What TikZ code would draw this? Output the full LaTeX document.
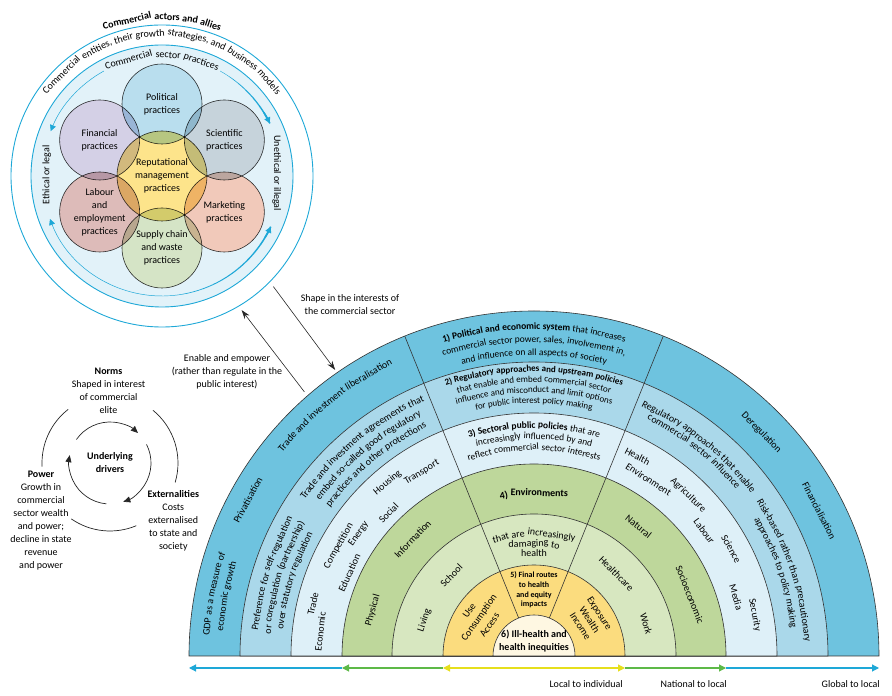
\documentclass[tikz,border=0pt]{standalone}
\usepackage{fontspec}
\setmainfont{Carlito}
\usetikzlibrary{arrows.meta,calc,decorations.text}

\definecolor{ringA}{HTML}{6EC3DF}
\definecolor{ringB}{HTML}{AAD8EA}
\definecolor{ringC}{HTML}{DEF0F8}
\definecolor{ringD}{HTML}{BED79B}
\definecolor{ringE}{HTML}{D7E7C0}
\definecolor{ringF}{HTML}{FBDC7E}
\definecolor{ringG}{HTML}{FEF7E2}
\definecolor{edge}{HTML}{333333}
\definecolor{sky}{HTML}{1EA8D7}
\definecolor{pale}{HTML}{E2F2F9}
\definecolor{axisgreen}{HTML}{5DB947}
\definecolor{axisyellow}{HTML}{E6DF1C}
\definecolor{polC}{HTML}{B9DEEE}
\definecolor{sciC}{HTML}{C6D3DB}
\definecolor{marC}{HTML}{F1C9BA}
\definecolor{supC}{HTML}{D5E4C6}
\definecolor{labC}{HTML}{DDBBB9}
\definecolor{finC}{HTML}{D4D0E6}
\definecolor{repC}{HTML}{FDE48B}

\newcommand\rfont{\fontsize{10}{12}\selectfont}
\newcommand\tfont{\fontsize{9.5}{11}\selectfont}
\newcommand\sfont{\fontsize{9}{10}\selectfont}
\newcommand\lfont{\fontsize{10}{13}\selectfont}

\makeatletter
\newtoks\arc@toks
% put every word in a box of its own
\def\arc@wrap#1 #2\arc@stop{%
  \arc@toks\expandafter{\the\arc@toks{#1} }%
  \ifx\relax#2\relax\else\arc@wrap#2\arc@stop\fi}
% curved text: [font]{centre}{radius}{angle}{words}
\newcommand\arctext[5][\rfont]{%
  \arc@toks{|#1|}\arc@wrap#5 \arc@stop
  \arc@path{#2}{#3}{#4}}
% same with a bold start: [font]{centre}{radius}{angle}{bold words}{words}
\newcommand\arctextb[6][\rfont]{%
  \arc@toks{|#1\bfseries|}\arc@wrap#5 \arc@stop
  \arc@toks\expandafter{\the\arc@toks|#1\mdseries|}\arc@wrap#6 \arc@stop
  \arc@path{#2}{#3}{#4}}
\newcommand\arc@path[3]{%
  \path[decorate,decoration={text along path,text align=center,text/.expanded={\the\arc@toks}}]
    ($(#1)+(#3+70:#2)$) arc[start angle=#3+70,end angle=#3-70,radius=#2];}
\makeatother

\tikzset{
  lbl/.style={font=\lfont,align=center,inner sep=0pt},
  petal/.style={circle,draw=edge,line width=0.6pt,minimum size=80pt,inner sep=0pt,
    align=center,font=\lfont,blend mode=multiply},
  conn/.style={draw=black!85,line width=0.6pt,-{Stealth[length=9pt,width=6pt]}},
  cyc/.style={draw=black!85,line width=0.7pt},
  cycarrow/.style={cyc,-{Triangle[length=7pt,width=6pt]}},
  axisline/.style={line width=1.1pt,-{Triangle[length=7pt,width=7pt]}}
}

\begin{document}
\begin{tikzpicture}[x=1pt,y=1pt]
\useasboundingbox (0,0) rectangle (892,696);

\coordinate (sc) at (534,40);
\coordinate (tc) at (162,520);
\coordinate (dc) at (110,233);

% rings of the semicircle
\foreach \r/\c in {345/ringA,294/ringB,243/ringC,192/ringD,142/ringE,91/ringF,41/ringG}
  \filldraw[fill=\c,draw=edge,line width=0.6pt] ($(sc)+(\r,0)$) arc[start angle=0,end angle=180,radius=\r] -- cycle;

\foreach \a in {68,112}
  \draw[edge,line width=0.6pt] ($(sc)+(\a:41)$) -- ($(sc)+(\a:345)$);

% ring 1
\arctext{sc}{323.5}{128.4}{Trade and investment liberalisation}
\arctext{sc}{322.5}{151.4}{Privatisation}
\arctext{sc}{325}{169}{GDP as a measure of}
\arctext{sc}{311.5}{169}{economic growth}
\arctext{sc}{316}{44.5}{Deregulation}
\arctext{sc}{316.5}{27}{Financialisation}
\arctextb[\tfont]{sc}{326.5}{90}{1) Political and economic system}{that increases}
\arctext[\tfont]{sc}{313.5}{90}{commercial sector power, sales, involvement in,}
\arctext[\tfont]{sc}{300.5}{90}{and influence on all aspects of society}

% ring 2
\arctext[\sfont\bfseries]{sc}{284}{90}{2) Regulatory approaches and upstream policies}
\arctext[\sfont]{sc}{273.5}{90}{that enable and embed commercial sector}
\arctext[\sfont]{sc}{263}{90}{influence and misconduct and limit options}
\arctext[\sfont]{sc}{252.5}{90}{for public interest policy making}
\arctext{sc}{277}{129.5}{Trade and investment agreements that}
\arctext{sc}{264.5}{129.5}{embed so-called good regulatory}
\arctext{sc}{252}{129.5}{practices and other protections}
\arctext{sc}{276.5}{162.5}{Preference for self-regulation}
\arctext{sc}{264}{162.5}{or coregulation (partnership)}
\arctext{sc}{252}{162.5}{over statutory regulation}
\arctext{sc}{271}{51.8}{Regulatory approaches that enable}
\arctext{sc}{261.5}{52}{commercial sector influence}
\arctext{sc}{270}{18.8}{Risk-based rather than precautionary}
\arctext{sc}{258}{19}{approaches to policy making}

% ring 3
\arctextb[\tfont]{sc}{227.5}{90}{3) Sectoral public policies}{that are}
\arctext[\tfont]{sc}{216.5}{90}{increasingly influenced by and}
\arctext[\tfont]{sc}{205.5}{90}{reflect commercial sector interests}
\foreach \r/\a/\w in {223.7/166.7/Trade,211.7/173.5/Economic,199/155.8/Education,
    221.6/150.6/Competition,211.3/145.1/Energy,200.4/135.5/Social,224.3/130.2/Housing,
    212.8/121.4/Transport,221.5/62.6/Health,207/57/Environment,220/46.2/Agriculture,
    207.6/36.2/Labour,221/28.5/Science,207/16.2/Media,221.8/10.5/Security}
  {\edef\tmp{\noexpand\arctext{sc}{\r}{\a}{\w}}\tmp}

% ring 4 and 5
\arctext[\rfont\bfseries]{sc}{160}{90}{4) Environments}
\arctext{sc}{119.5}{90}{that are increasingly}
\arctext{sc}{109.5}{90}{damaging to}
\arctext{sc}{99.5}{90}{health}
\foreach \r/\a/\w in {165/164.1/Physical,165/136.1/Information,163/51.1/Natural,
    164/21.5/Socioeconomic,112.7/161.9/Living,112/135.7/School,113/45/Healthcare,
    113.2/16/Work,76/145/Use,64/145/Consumption,51/145/Access,75/33/Exposure,
    63/33/Wealth,52/33/Income}
  {\edef\tmp{\noexpand\arctext{sc}{\r}{\a}{\w}}\tmp}

% centre
\node[font=\fontsize{8}{9.6}\selectfont\bfseries,align=center] (routes) at (534,106)
  {5) Final routes\\to health\\and equity\\impacts};
\node[font=\lfont\bfseries,align=center] (ill) at (534,55) {6) Ill-health and\\health inequities};

% scale arrows
\coordinate (gL) at (189,28);
\coordinate (nL) at (342,28);
\coordinate (lL) at (443,28);
\coordinate (lR) at (625,28);
\coordinate (nR) at (726,28);
\coordinate (gR) at (879,28);
\draw[axisline,sky] (nL) -- (gL);
\draw[axisline,axisgreen] (lL) -- (nL);
\draw[line width=1.1pt,axisyellow,{Triangle[length=7pt,width=7pt]}-{Triangle[length=7pt,width=7pt]}] (lL) -- (lR);
\draw[axisline,axisgreen] (lR) -- (nR);
\draw[axisline,sky] (nR) -- (gR);
\node[lbl,anchor=east] (loc) at (623,12) {Local to individual};
\node[lbl,anchor=east] (nat) at (727,12) {National to local};
\node[lbl,anchor=east] (glo) at (880,12) {Global to local};

% commercial actors circle
\draw[sky,line width=0.9pt] (tc) circle[radius=151];
\filldraw[fill=pale,draw=sky,line width=0.9pt] (tc) circle[radius=131];

\draw[sky,line width=0.5pt,-{Triangle[length=6pt,width=6pt]}] ($(tc)+(119:120)$) arc[start angle=119,end angle=158,radius=120];
\draw[sky,line width=0.5pt,-{Triangle[length=6pt,width=6pt]}] ($(tc)+(-90:120)$) arc[start angle=-90,end angle=-159,radius=120];
\foreach \i in {0,...,6}
  \draw[sky,line width=0.4pt+\i*0.2pt] ($(tc)+(61-\i*5:120)$) arc[start angle=61-\i*5,end angle=56-\i*5,radius=120];
\draw[sky,line width=1.6pt,-{Triangle[length=6pt,width=6pt]}] ($(tc)+(32:120)$) arc[start angle=32,end angle=26,radius=120];
\foreach \i in {0,...,12}
  \draw[sky,line width=0.4pt+\i*0.1pt] ($(tc)+(-90+\i*5:120)$) arc[start angle=-90+\i*5,end angle=-85+\i*5,radius=120];
\draw[sky,line width=1.6pt,-{Triangle[length=6pt,width=6pt]}] ($(tc)+(-31:120)$) arc[start angle=-31,end angle=-25,radius=120];

\arctext[\rfont\bfseries]{tc}{156}{90}{Commercial actors and allies}
\arctext{tc}{139.5}{90}{Commercial entities, their growth strategies, and business models}
\arctext{tc}{118}{90}{Commercial sector practices}
\node[lbl,rotate=90] (eth) at (46.7,521) {Ethical or legal};
\node[lbl,rotate=-90] (uneth) at (276.7,522.7) {Unethical or illegal};

% practices
\foreach \a in {90,30,-30,-90,-150,150}
  \fill[white] ($(tc)+(\a:72)$) circle[radius=40];
\fill[white] (tc) circle[radius=45];
\foreach \n/\a/\c/\t in {pol/90/polC/Political\\practices,sci/30/sciC/Scientific\\practices,
    mar/-30/marC/Marketing\\practices,sup/-90/supC/Supply chain\\and waste\\practices,
    lab/-150/labC/Labour\\and\\employment\\practices,fin/150/finC/Financial\\practices}
  \node[petal,fill=\c] (\n) at ($(tc)+(\a:72)$) {\t};
\node[petal,fill=repC,minimum size=90pt] (rep) at (tc) {Reputational\\management\\practices};

% underlying drivers
\node[font=\lfont\bfseries,align=center] (drv) at (dc) {Underlying\\drivers};
\foreach \s/\e in {145/47,27/-71,-95/-191}
  \draw[cycarrow] ($(dc)+(\s:41)$) arc[start angle=\s,end angle=\e,radius=41];
\foreach \s/\e in {-16.6/50.8,128/183,-124.7/-67.3}
  \draw[cyc] ($(dc)+(\s:68)$) arc[start angle=\s,end angle=\e,radius=68];
\node[lbl] (norms) at (108.5,305) {\textbf{Norms}\\Shaped in interest\\of commercial\\elite};
\node[lbl] (ext) at (173.3,175) {\textbf{Externalities}\\Costs\\externalised\\to state and\\society};
\node[lbl] (pow) at (41,175) {\textbf{Power}\\Growth in\\commercial\\sector wealth\\and power;\\decline in state\\revenue\\and power};

% links between the two parts
\coordinate (enS) at ($(sc)+(131:350)$);
\coordinate (enE) at ($(tc)+(-59.3:156)$);
\draw[conn] (enS) -- (enE);
\node[lbl] (enable) at (227,324) {Enable and empower\\(rather than regulate in the\\public interest)};
\coordinate (shS) at ($(tc)+(-44.8:157)$);
\coordinate (shE) at ($(sc)+(124.8:348.4)$);
\draw[conn] (shS) -- (shE);
\node[lbl] (shape) at (350,391) {Shape in the interests of\\the commercial sector};

\end{tikzpicture}
\end{document}
